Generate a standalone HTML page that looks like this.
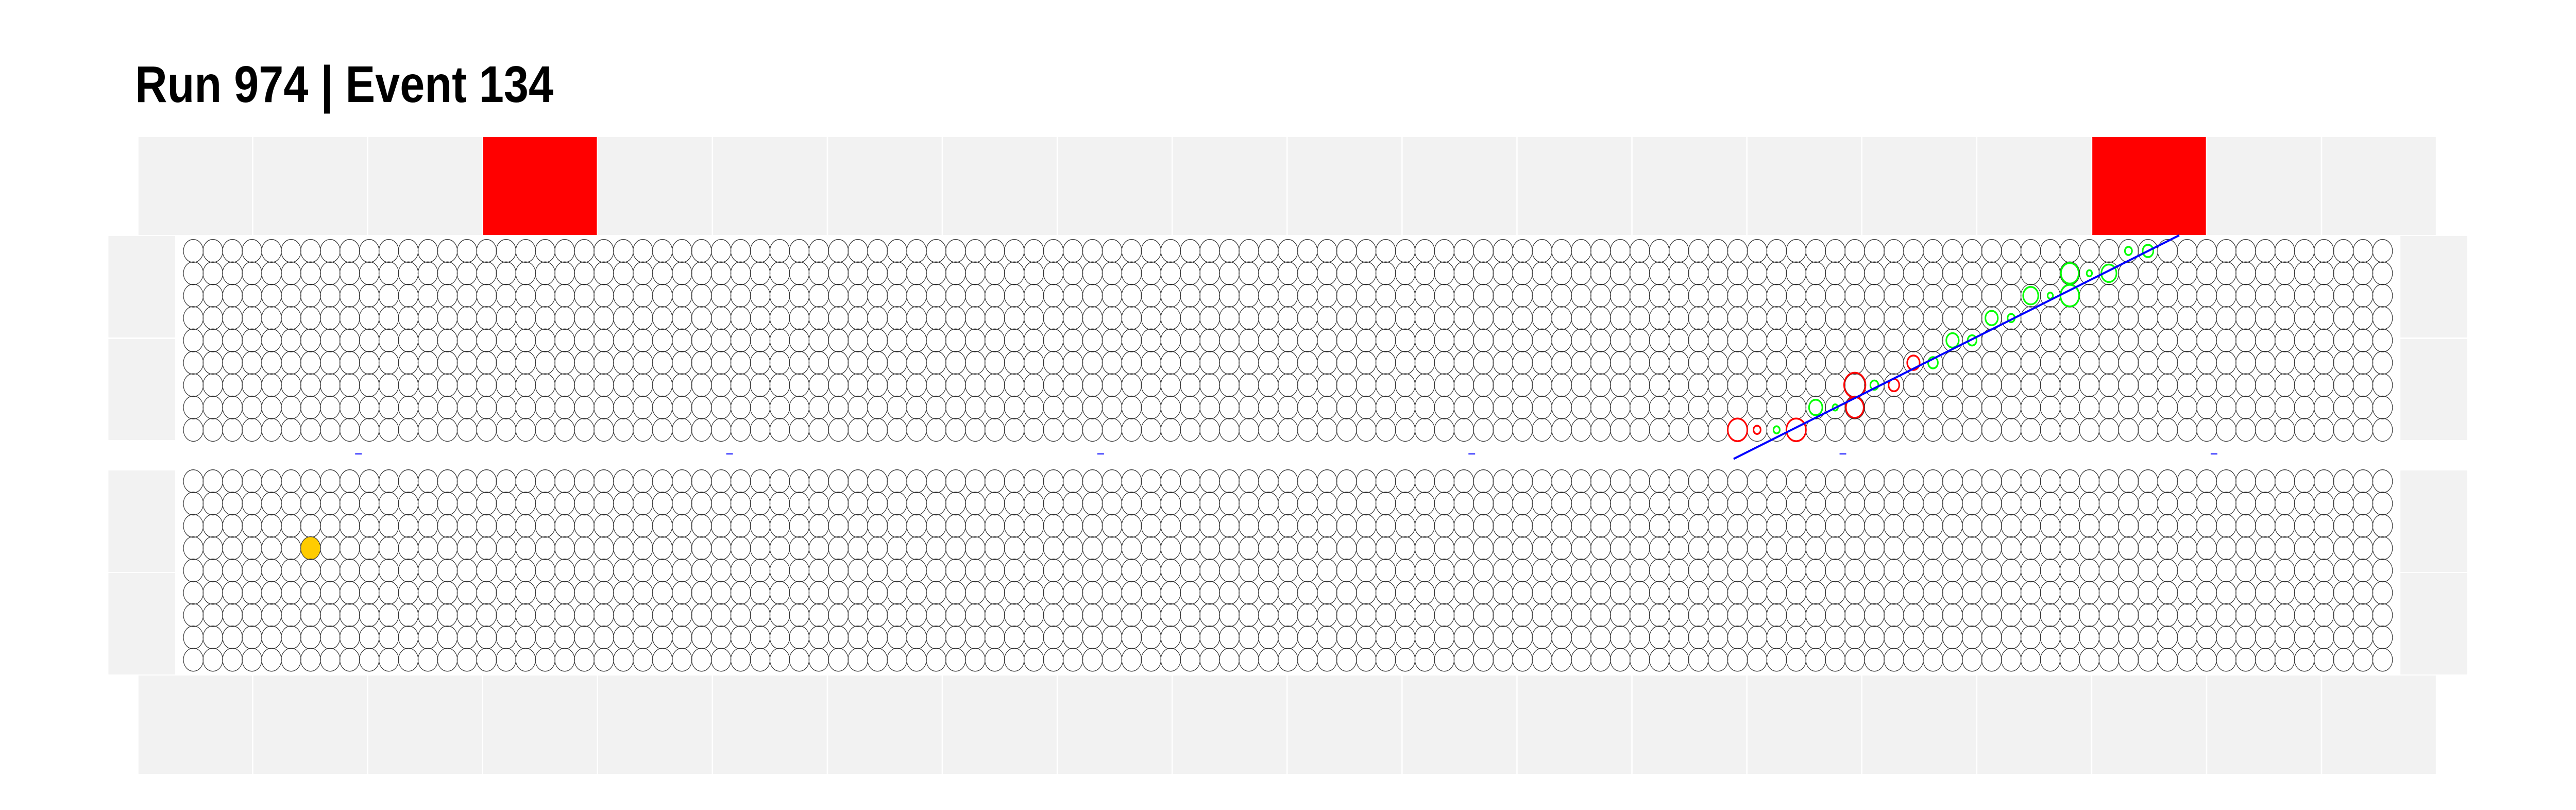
<!DOCTYPE html>
<html><head><meta charset="utf-8">
<style>html,body{margin:0;padding:0;background:#fff;overflow:hidden;width:100%;height:100%;}svg{display:block;width:100vw;height:100vh;}</style>
</head><body>
<svg id="chart" viewBox="0 0 5796 1572" preserveAspectRatio="none" xmlns="http://www.w3.org/2000/svg">
<rect width="5796" height="1572" fill="#fff"/>
<text x="304" y="198" font-family="Liberation Sans, sans-serif" font-weight="bold" font-size="100" textLength="941" lengthAdjust="spacingAndGlyphs" fill="#000">Run 974 | Event 134</text>
<g id="bands"></g>
<g id="grids"></g>
<g id="hits"></g>
<g id="track"></g>
</svg>
<script>
const NS='http://www.w3.org/2000/svg';
const nCols=113, nRows=9;
const topCells=20;
const topHitCells=[3,17];
const hitCols=[79,80,81,82,83,84,85,85,86,87,88,89,90,91,92,93,94,95,96,96,97,98,99,100];
const hitRows=[8,8,8,8,7,7,7,6,6,6,5,5,4,4,3,3,2,2,2,1,1,1,0,0];
const hitSizes=[22,8,7,22,15,6,20,24,9,12,14,11,14,10,14,8,17,6,21,20,6,17,8,12];
const hitKinds=['r','r','g','r','g','g','r','r','g','r','r','g','g','g','g','g','g','g','g','g','g','g','g','g'];
const bottomHitCol=[6], bottomHitRow=[3];
const trackCols=[78.8,101.6], trackRows=[9.3,-0.7];
const markerX=[806,1641,2476,3311,4146,4981];

const gx=c=>435+c*43.98;
const gyTop=r=>487+r*43.4;
const gyBot=r=>934+r*43.3;
function mk(tag,attrs,parent){const e=document.createElementNS(NS,tag);for(const k in attrs)e.setAttribute(k,attrs[k]);parent.appendChild(e);return e;}
const bands=document.getElementById('bands');
const cw=258.6;
for(let i=0;i<topCells;i++){
  const e=mk('rect',{x:310+i*cw+1.5,y:266,width:cw-3,height:190,fill:topHitCells.includes(i)?'#ff0000':'#f2f2f2'},bands);
  
  
  const b=mk('rect',{x:310+i*cw+1.5,y:1311,width:cw-3,height:191,fill:'#f2f2f2'},bands);
  
  
}
[[458,655],[658,854],[913,1110],[1112,1309]].forEach(([a,b])=>{
  const l=mk('rect',{x:244,y:a,width:150,height:b-a,fill:'#f2f2f2'},bands);
  
  
  const r=mk('rect',{x:5401,y:a,width:150,height:b-a,fill:'#f2f2f2'},bands);
  
  
});
const grids=document.getElementById('grids');
for(let r=0;r<nRows;r++)for(let c=0;c<nCols;c++){
  const a=mk('circle',{cx:gx(c),cy:gyTop(r),r:22.3,fill:'none',stroke:'#333',"stroke-width":1.3},grids);
  
  
  const isY=bottomHitCol.some((bc,i)=>bc===c&&bottomHitRow[i]===r);
  const b=mk('circle',{cx:gx(c),cy:gyBot(r),r:22.3,fill:isY?'#ffcc00':'none',stroke:'#333',"stroke-width":1.3},grids);
  
  
}
const hits=document.getElementById('hits');
hitCols.forEach((c,i)=>{
  const e=mk('circle',{cx:gx(c),cy:gyTop(hitRows[i]),r:hitSizes[i],fill:'none',stroke:hitKinds[i]==='r'?'#ff0000':'#00ff00',"stroke-width":3.5},hits);
  
  
});
const track=document.getElementById('track');
const ln=mk('line',{x1:gx(trackCols[0]),y1:gyTop(trackRows[0]),x2:gx(trackCols[1]),y2:gyTop(trackRows[1]),stroke:'#0000ff',"stroke-width":4},track);


markerX.forEach(x=>{
  const m=mk('rect',{x:x-7,y:880,width:15,height:2,fill:'#0000ff'},track);
  
  
});
</script>
</body></html>
